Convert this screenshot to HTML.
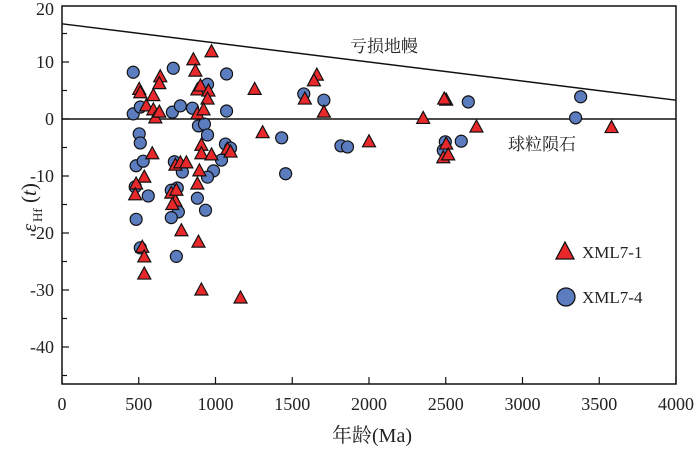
<!DOCTYPE html>
<html><head><meta charset="utf-8"><style>
html,body{margin:0;padding:0;background:#fff;}
svg text{font-family:"Liberation Serif","Noto Serif CJK SC",serif;fill:#222;}
</style></head><body>
<svg id="chart" width="700" height="446" viewBox="0 0 700 446" xmlns="http://www.w3.org/2000/svg">
<g id="axes"></g>
<g id="marks"></g>
<text x="350" y="52" font-size="17">亏损地幔</text>
<text x="508" y="150" font-size="17">球粒陨石</text>
<text x="332" y="442" font-size="20">年龄(Ma)</text>
<g transform="translate(36,232) rotate(-90)">
<text x="0" y="0" font-size="21" font-style="italic">ε</text>
<text x="10" y="6" font-size="13">Hf</text>
<text x="29" y="0" font-size="21">(<tspan font-style="italic">t</tspan>)</text>
</g>
<g>
<polygon points="565,242 556,259 574,259" fill="#e8282a" stroke="#111" stroke-width="1.3"/>
<text x="582" y="258" font-size="17">XML7-1</text>
<circle cx="566" cy="297" r="9" fill="#5b7dbf" stroke="#111" stroke-width="1.3"/>
<text x="582" y="303" font-size="17">XML7-4</text>
</g>
</svg>
<script>
const xTicks=[0,500,1000,1500,2000,2500,3000,3500,4000];
const yTicks=[20,10,0,-10,-20,-30,-40];
const dmLine=[[0,16.7],[4000,3.3]];
const triAge=[503,510,549,595,595,608,634,640,634,588,536,483,477,856,869,974,882,902,954,948,882,922,908,908,974,895,882,739,771,810,712,739,745,719,1255,1307,1582,1660,1641,1706,1078,1098,523,536,536,778,889,908,1163,2000,2353,2503,2490,2503,2484,2516,2700,3580];
const triEps=[5.2,4.6,2.3,4.1,1.6,0.2,1.2,7.4,6.2,-6.1,-10.2,-11.4,-13.3,10.4,8.4,11.8,5.1,5.8,4.9,3.5,0.9,1.6,-4.6,-6.1,-6.3,-9.1,-11.4,-8.1,-7.7,-7.7,-13.0,-14.4,-12.5,-15.0,5.2,-2.4,3.5,7.7,6.7,1.2,-5.3,-5.8,-22.5,-24.2,-27.2,-19.6,-21.6,-30,-31.4,-4.0,0.1,3.3,3.5,-4.4,-6.8,-6.3,-1.4,-1.5];
const cirAge=[464,464,510,503,510,483,529,477,562,725,719,771,850,889,928,948,948,1072,1072,1431,1457,1065,1098,1039,987,948,732,784,751,712,882,935,758,712,483,510,745,1817,1860,1575,1706,2497,2484,2647,2601,3346,3379];
const cirEps=[8.2,0.9,2.1,-2.6,-4.2,-8.2,-7.4,-11.9,-13.5,8.9,1.2,2.3,1.9,-1.2,-0.9,-2.8,6.1,7.9,1.4,-3.3,-9.6,-4.4,-5.1,-7.2,-9.1,-10.2,-7.5,-9.3,-12.1,-12.5,-13.9,-16.0,-16.3,-17.3,-17.6,-22.6,-24.1,-4.7,-4.9,4.4,3.3,-4.0,-5.5,3.0,-3.9,0.2,3.9];
const X0=62,X1=676,Y_TOP=6,Y_BOT=384;
const sx=a=>X0+(a/4000)*(X1-X0);
const sy=e=>119-e*5.7;
const NS='http://www.w3.org/2000/svg';
function mk(tag,attrs,parent){const el=document.createElementNS(NS,tag);for(const k in attrs)el.setAttribute(k,attrs[k]);parent.appendChild(el);return el;}
const axes=document.getElementById('axes'),marks=document.getElementById('marks');
const frame=mk('rect',{x:X0,y:Y_TOP,width:X1-X0,height:Y_BOT-Y_TOP,fill:'none',stroke:'#111','stroke-width':1.5},axes);


xTicks.forEach(v=>{
 const t=mk('line',{x1:sx(v),x2:sx(v),y1:Y_BOT,y2:Y_BOT-7,stroke:'#111','stroke-width':1.2},axes);
 
 
 const l=mk('text',{x:sx(v),y:Y_BOT+26,'font-size':18,'text-anchor':'middle'},axes);l.textContent=v;
 
 
});
for(let v=20;v>=-45;v-=5){
 if(sy(v)<Y_TOP||sy(v)>Y_BOT)continue;
 const t=mk('line',{x1:X0,x2:X0+(v%10===0?7:5),y1:sy(v),y2:sy(v),stroke:'#111','stroke-width':1.2},axes);
 
 
}
yTicks.forEach(v=>{
 const l=mk('text',{x:X0-8,y:Math.max(sy(v)+6,15),'font-size':18,'text-anchor':'end'},axes);l.textContent=v;
 
 
});
const zl=mk('line',{x1:X0,x2:X1,y1:sy(0),y2:sy(0),stroke:'#111','stroke-width':1.5},axes);


const dm=mk('line',{x1:sx(dmLine[0][0]),y1:sy(dmLine[0][1]),x2:sx(dmLine[1][0]),y2:sy(dmLine[1][1]),stroke:'#111','stroke-width':1.5},axes);


cirAge.forEach((a,i)=>{
 const c=mk('circle',{cx:sx(a),cy:sy(cirEps[i]),r:6,fill:'#5b7dbf',stroke:'#111','stroke-width':1.2},marks);
 
 
});
triAge.forEach((a,i)=>{
 const x=sx(a),y=sy(triEps[i]);
 const p=mk('polygon',{points:`${x},${y-7} ${x-6.5},${y+5} ${x+6.5},${y+5}`,fill:'#e8282a',stroke:'#111','stroke-width':1.2},marks);
 
 
});
</script>
</body></html>
